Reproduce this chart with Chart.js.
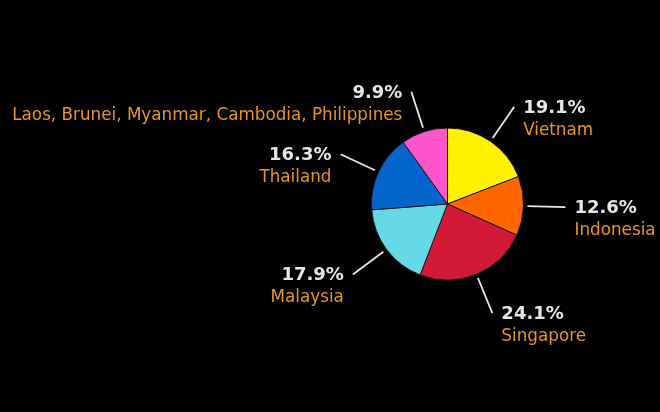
<!DOCTYPE html>
<html>
<head>
<meta charset="utf-8">
<script src="https://cdn.jsdelivr.net/npm/chart.js@4/dist/chart.umd.min.js"></script>
<style>
    html, body { margin: 0; padding: 0; background: #000; }
    #wrap { width: 660px; height: 412px; position: relative; }
</style>
</head>
<body>
<div id="wrap"><canvas id="pieChart"></canvas></div>
<script>
// Share by country, clockwise from 12 o'clock
const countries = ['Vietnam', 'Indonesia', 'Singapore', 'Malaysia', 'Thailand', 'Laos, Brunei, Myanmar, Cambodia, Philippines'];
const shares = [19.1, 12.6, 24.1, 17.9, 16.3, 9.9];
const sliceColors = ['#fff200', '#ff6600', '#d21a38', '#66d9e6', '#0466cc', '#ff55cc'];

const FONT = '"DejaVu Sans", Verdana, sans-serif';

// Leader lines + two-line labels (percent, then name)
const calloutPlugin = {
    id: 'callouts',
    afterDatasetsDraw(chart) {
        const ctx = chart.ctx;
        const meta = chart.getDatasetMeta(0);
        ctx.save();
        meta.data.forEach((arc, i) => {
            const mid = (arc.startAngle + arc.endAngle) / 2;
            const r = arc.outerRadius;
            const cos = Math.cos(mid), sin = Math.sin(mid);
            const x1 = arc.x + cos * (r + 4), y1 = arc.y + sin * (r + 4);
            const x2 = arc.x + cos * (r + 42), y2 = arc.y + sin * (r + 42);

            ctx.strokeStyle = '#e8e8e8';
            ctx.lineWidth = 1.8;
            ctx.beginPath();
            ctx.moveTo(x1, y1);
            ctx.lineTo(x2, y2);
            ctx.stroke();

            const right = cos >= 0;
            const tx = right ? x2 + 9 : x2 - 9;
            ctx.textAlign = right ? 'left' : 'right';
            ctx.textBaseline = 'alphabetic';

            ctx.font = 'bold 18px ' + FONT;
            ctx.fillStyle = '#e6e6e6';
            ctx.fillText(shares[i].toFixed(1) + '%', tx, y2 + 6);

            ctx.font = '16.8px ' + FONT;
            ctx.fillStyle = '#e8961c';
            ctx.fillText(countries[i], tx, y2 + 28);
        });
        ctx.restore();
    }
};

new Chart(document.getElementById('pieChart').getContext('2d'), {
    type: 'pie',
    data: {
        labels: countries,
        datasets: [{
            data: shares,
            backgroundColor: sliceColors,
            borderColor: '#1a1a1a',
            borderWidth: 1
        }]
    },
    options: {
        responsive: true,
        maintainAspectRatio: false,
        animation: false,
        radius: 76,
        layout: { padding: { left: 295, right: 60, top: 0, bottom: 4 } },
        plugins: {
            legend: { display: false },
            tooltip: { enabled: false }
        }
    },
    plugins: [calloutPlugin]
});
</script>
</body>
</html>
